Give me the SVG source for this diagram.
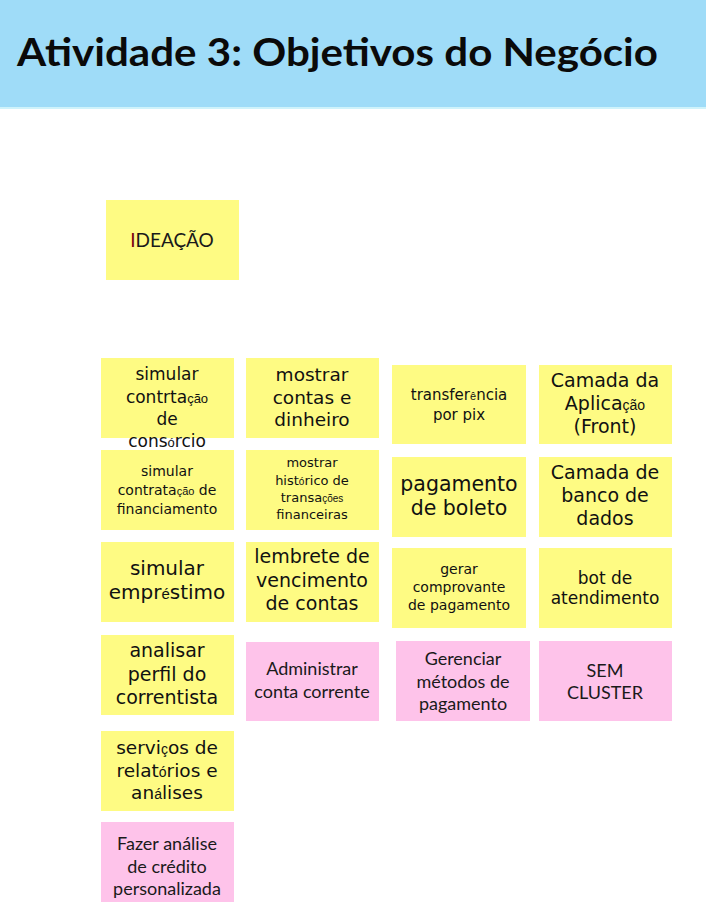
<svg xmlns="http://www.w3.org/2000/svg" width="706" height="913" viewBox="0 0 706 913">
<style>
.y{fill:#FEFB83}
.p{fill:#FEC3EA}
.h{font-family:"DejaVu Sans","Liberation Sans",sans-serif;fill:#111;text-anchor:middle}
.s{font-family:Lato,"Liberation Sans",sans-serif;fill:#1a1a1a;text-anchor:middle}
.a{font-family:"Liberation Sans",sans-serif;font-weight:400}
</style>
<rect x="0" y="0" width="706" height="107" fill="#9FDCF8"/>
<rect x="0" y="107" width="706" height="2" fill="#CFF3FB"/>
<text x="17" y="66" font-family="Lato,'Liberation Sans',sans-serif" font-weight="700" font-size="39" fill="#0a0a0a" textLength="641" lengthAdjust="spacingAndGlyphs">Atividade 3: Objetivos do Negócio</text>

<g id="ideacao"><rect class="y" x="106" y="200" width="133" height="80"/>
<text class="s" x="172" y="247" font-size="19"><tspan fill="#7a0010">I</tspan>DEAÇÃO</text></g>

<g id="n-consorcio"><rect class="y" x="101" y="358" width="133" height="80"/>
<text class="h" font-size="17"><tspan x="167" y="380">simular</tspan><tspan x="167" y="403">contrta<tspan class="a" font-size="13">ção</tspan></tspan><tspan x="167" y="425">de</tspan><tspan x="167" y="447">cons<tspan class="a" font-size="13">ó</tspan>rcio</tspan></text></g>

<g id="n-financiamento"><rect class="y" x="101" y="450" width="133" height="80"/>
<text class="h" font-size="14"><tspan x="167" y="476">simular</tspan><tspan x="167" y="495">contrata<tspan class="a" font-size="11">ção</tspan> de</tspan><tspan x="167" y="514">financiamento</tspan></text></g>

<g id="n-emprestimo"><rect class="y" x="101" y="542" width="133" height="80"/>
<text class="h" font-size="20"><tspan x="167" y="575">simular</tspan><tspan x="167" y="599">empr<tspan class="a" font-size="15">é</tspan>stimo</tspan></text></g>

<g id="n-perfil"><rect class="y" x="101" y="635" width="133" height="80"/>
<text class="h" font-size="19"><tspan x="167" y="657">analisar</tspan><tspan x="167" y="681">perfil do</tspan><tspan x="167" y="704">correntista</tspan></text></g>

<g id="n-relatorios"><rect class="y" x="101" y="731" width="133" height="80"/>
<text class="h" font-size="18.5"><tspan x="167" y="754">servi<tspan class="a" font-size="14">ç</tspan>os de</tspan><tspan x="167" y="776.5">relat<tspan class="a" font-size="14">ó</tspan>rios e</tspan><tspan x="167" y="799">an<tspan class="a" font-size="14">á</tspan>lises</tspan></text></g>

<g id="n-credito"><rect class="p" x="101" y="822" width="133" height="80"/>
<text class="s" font-size="18"><tspan x="167" y="850">Fazer análise</tspan><tspan x="167" y="872.5">de crédito</tspan><tspan x="167" y="895">personalizada</tspan></text></g>

<g id="n-contas"><rect class="y" x="246" y="358" width="133" height="80"/>
<text class="h" font-size="18.5"><tspan x="312" y="381">mostrar</tspan><tspan x="312" y="403.5">contas e</tspan><tspan x="312" y="426">dinheiro</tspan></text></g>

<g id="n-historico"><rect class="y" x="246" y="450" width="133" height="80"/>
<text class="h" font-size="13"><tspan x="312" y="467">mostrar</tspan><tspan x="312" y="485">hist<tspan class="a" font-size="10">ó</tspan>rico de</tspan><tspan x="312" y="502">transa<tspan class="a" font-size="10">ções</tspan></tspan><tspan x="312" y="519">financeiras</tspan></text></g>

<g id="n-lembrete"><rect class="y" x="246" y="542" width="133" height="80"/>
<text class="h" font-size="19"><tspan x="312" y="563">lembrete de</tspan><tspan x="312" y="587">vencimento</tspan><tspan x="312" y="610">de contas</tspan></text></g>

<g id="n-conta-corrente"><rect class="p" x="246" y="642" width="133" height="79"/>
<text class="s" font-size="18"><tspan x="312" y="675">Administrar</tspan><tspan x="312" y="698">conta corrente</tspan></text></g>

<g id="n-pix"><rect class="y" x="392" y="365" width="134" height="79"/>
<text class="h" font-size="15"><tspan x="459" y="400">transfer<tspan class="a" font-size="11">ê</tspan>ncia</tspan><tspan x="459" y="420">por pix</tspan></text></g>

<g id="n-boleto"><rect class="y" x="392" y="457" width="134" height="80"/>
<text class="h" font-size="20.5"><tspan x="459" y="491">pagamento</tspan><tspan x="459" y="515">de boleto</tspan></text></g>

<g id="n-comprovante"><rect class="y" x="392" y="548" width="134" height="80"/>
<text class="h" font-size="14"><tspan x="459" y="574">gerar</tspan><tspan x="459" y="592">comprovante</tspan><tspan x="459" y="610">de pagamento</tspan></text></g>

<g id="n-metodos"><rect class="p" x="396" y="641" width="134" height="80"/>
<text class="s" font-size="18"><tspan x="463" y="665">Gerenciar</tspan><tspan x="463" y="687.5">métodos de</tspan><tspan x="463" y="710">pagamento</tspan></text></g>

<g id="n-front"><rect class="y" x="539" y="365" width="133" height="79"/>
<text class="h" font-size="19"><tspan x="605" y="387">Camada da</tspan><tspan x="605" y="410">Aplica<tspan class="a" font-size="14">ção</tspan></tspan><tspan x="605" y="433">(Front)</tspan></text></g>

<g id="n-banco"><rect class="y" x="539" y="457" width="133" height="80"/>
<text class="h" font-size="19"><tspan x="605" y="479">Camada de</tspan><tspan x="605" y="502">banco de</tspan><tspan x="605" y="525">dados</tspan></text></g>

<g id="n-bot"><rect class="y" x="539" y="548" width="133" height="80"/>
<text class="h" font-size="17"><tspan x="605" y="584">bot de</tspan><tspan x="605" y="604">atendimento</tspan></text></g>

<g id="n-sem-cluster"><rect class="p" x="539" y="641" width="133" height="80"/>
<text class="s" font-size="18"><tspan x="605" y="677">SEM</tspan><tspan x="605" y="699">CLUSTER</tspan></text></g>

<g id="connectors"></g>
</svg>
